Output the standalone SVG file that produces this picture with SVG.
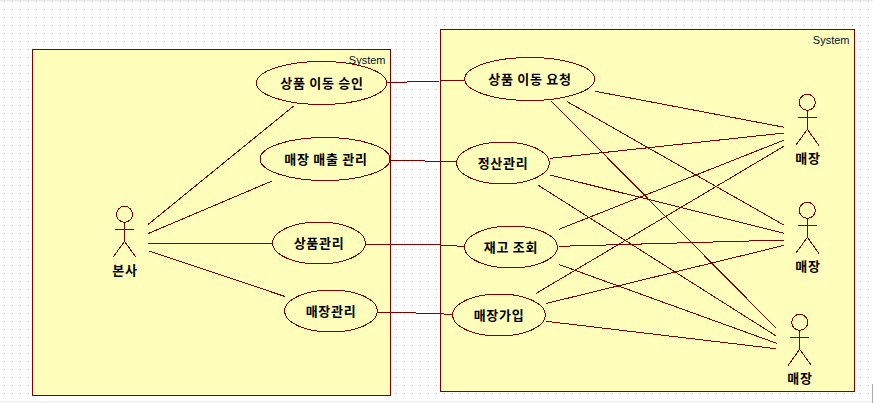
<svg xmlns="http://www.w3.org/2000/svg" width="873" height="403" viewBox="0 0 873 403">
<style>
.sys{fill:#ffffbb;stroke:#800000;stroke-width:1;shape-rendering:crispEdges}
.uc{fill:#ffffbb;stroke:#800000;stroke-width:1;shape-rendering:crispEdges}
.ln{fill:none;stroke:#800000;stroke-width:1;shape-rendering:crispEdges}
.hd{fill:none;stroke:#800000;stroke-width:1;shape-rendering:crispEdges}
.st{font-family:"Liberation Sans",sans-serif;font-size:11px;fill:#001030;text-anchor:end}
.lb{font-family:"Noto Sans CJK KR",sans-serif;font-size:13px;font-weight:700;letter-spacing:.7px;fill:#000;text-anchor:middle}
</style>
<defs>
<pattern id="dots" width="8" height="8" patternUnits="userSpaceOnUse" x="4" y="1"><rect width="1" height="1" fill="#bbbbbb"/></pattern>
<g id="actor"><circle class="hd" cx="0" cy="0" r="8"/><path class="ln" d="M0 8V27M-9.500 15.300H9.500M0 27L-11.500 43M0 27L11.500 43"/></g>
</defs>
<rect width="873" height="403" fill="#fff"/>
<rect width="873" height="403" fill="url(#dots)"/>
<rect width="873" height="1" fill="#e8e8e8"/>
<rect y="401" width="873" height="2" fill="#f0f0f0" opacity=".7"/>
<rect x="872" y="384" width="1" height="19" fill="#aaaaaa"/>
<g id="system-left"><rect class="sys" x="32.500" y="49.500" width="358" height="346"/></g>
<g id="system-right"><rect class="sys" x="440.500" y="29.500" width="414" height="362"/></g>
<g id="connectors" class="ln">
<path d="M148.300 224.300L293.700 106"/>
<path d="M148.300 233.500L272 181"/>
<path d="M148 243.300H272.700"/>
<path d="M149 251L285 296.500"/>
<path d="M386.500 82H407L440 81L465 80.500"/>
<path d="M390 160.500H408L441 161.500L456.700 162"/>
<path d="M365.500 244H390L441 245L465 246.500"/>
<path d="M377.500 312.500H397L434 313.500L453 314.500"/>
<path d="M595.300 91.300L784.300 127.300"/>
<path d="M567.300 101.700L784.300 225.300"/>
<path d="M551.300 101L775.700 327.700"/>
<path d="M550.300 158.300L784.300 133"/>
<path d="M550.300 175L784.300 233.300"/>
<path d="M538.300 185.300L775.700 335.700"/>
<path d="M559 229.300L784.300 140"/>
<path d="M559.300 246.300L785 240"/>
<path d="M559 264.500L776.700 343.300"/>
<path d="M536.300 293.300L784.300 146"/>
<path d="M546 303.500L784.300 245.300"/>
<path d="M546 321.300L776 348.700"/>
</g>
<g id="uc-approve"><ellipse class="uc" cx="321.500" cy="83" rx="65" ry="21.500"/><text class="lb" x="322" y="88">상품 이동 승인</text></g>
<g id="uc-sales"><ellipse class="uc" cx="325" cy="159" rx="65" ry="21.500"/><text class="lb" x="326" y="164">매장 매출 관리</text></g>
<g id="uc-product"><ellipse class="uc" cx="319" cy="243" rx="46.500" ry="21"/><text class="lb" x="319" y="248">상품관리</text></g>
<g id="uc-store"><ellipse class="uc" cx="331" cy="311" rx="46.500" ry="21"/><text class="lb" x="331" y="316">매장관리</text></g>
<g id="uc-request"><ellipse class="uc" cx="529.700" cy="79" rx="65" ry="21.500"/><text class="lb" x="530" y="84">상품 이동 요청</text></g>
<g id="uc-settle"><ellipse class="uc" cx="503" cy="163" rx="46.500" ry="21"/><text class="lb" x="503" y="168">정산관리</text></g>
<g id="uc-stock"><ellipse class="uc" cx="511" cy="247" rx="46.500" ry="21"/><text class="lb" x="511" y="252">재고 조회</text></g>
<g id="uc-join"><ellipse class="uc" cx="499" cy="315" rx="46.500" ry="21"/><text class="lb" x="499" y="320">매장가입</text></g>
<g id="actor-hq"><use href="#actor" x="124.500" y="214.300"/><text class="lb" x="125" y="275">본사</text></g>
<g id="actor-store1"><use href="#actor" x="807.300" y="102.300"/><text class="lb" x="808" y="163">매장</text></g>
<g id="actor-store2"><use href="#actor" x="807.300" y="210.300"/><text class="lb" x="808" y="271">매장</text></g>
<g id="actor-store3"><use href="#actor" x="799.700" y="322.300"/><text class="lb" x="800" y="383">매장</text></g>
<text class="st" x="385.500" y="64">System</text>
<text class="st" x="849.500" y="44">System</text>
</svg>
